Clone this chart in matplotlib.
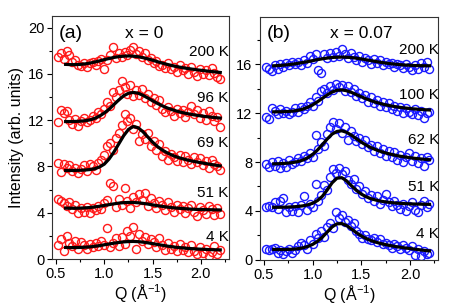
import numpy as np
from matplotlib import pyplot as plt
from matplotlib.ticker import MultipleLocator

plt.rcParams['font.family'] = ['Liberation Sans', 'DejaVu Sans']

# measured Q grid (1/A)
q = [0.52, 0.55, 0.58, 0.61, 0.64, 0.67, 0.70, 0.73, 0.76, 0.79, 0.82, 0.85, 0.88, 0.91,
     0.94, 0.97, 1.00, 1.03, 1.06, 1.09, 1.12, 1.15, 1.18, 1.21, 1.24, 1.27, 1.30, 1.33,
     1.36, 1.39, 1.42, 1.45, 1.48, 1.51, 1.54, 1.57, 1.60, 1.63, 1.66, 1.69, 1.72, 1.75,
     1.78, 1.81, 1.84, 1.87, 1.90, 1.93, 1.96, 1.99, 2.02, 2.05, 2.08, 2.11, 2.14, 2.17, 2.20]

# panel (a), x = 0
a_200k = [17.5, 17.8, 17.3, 18.0, 17.6, 17.0, 17.2, 16.8, 16.7, 16.9, 16.6, 16.9, 17.0, 16.8,
          17.1, 17.3, 16.4, 17.2, 17.6, 18.3, 17.4, 17.8, 17.5, 17.9, 17.6, 18.1, 18.3, 17.7,
          18.0, 17.5, 17.8, 17.2, 17.4, 16.9, 17.1, 16.7, 16.8, 16.5, 16.9, 16.4, 16.6, 16.2,
          16.8, 16.3, 16.5, 16.0, 16.6, 16.2, 15.8, 16.4, 16.0, 16.3, 15.9, 16.5, 16.1, 15.7, 15.6]
a_96k = [11.8, 12.9, 12.6, 12.8, 12.0, 11.7, 12.1, 11.5, 11.9, 12.2, 11.8, 12.0, 12.4, 12.2,
         12.7, 12.5, 13.0, 13.6, 13.2, 14.4, 14.0, 14.6, 15.4, 14.9, 14.3, 15.0, 14.1, 14.6,
         14.2, 14.7, 13.9, 14.3, 13.6, 13.9, 13.3, 13.7, 13.0, 12.7, 13.1, 12.8, 12.4, 13.0,
         12.6, 12.9, 12.3, 12.7, 13.2, 12.5, 12.9, 12.2, 12.6, 12.0, 12.8, 12.4, 11.9, 12.3, 11.4]
a_69k = [8.3, 7.5, 8.2, 7.9, 8.1, 7.6, 7.9, 7.4, 7.8, 8.1, 7.6, 8.2, 8.0, 7.7,
         8.3, 8.6, 9.0, 9.8, 10.0, 9.4, 10.5, 10.9, 11.6, 12.5, 11.9, 12.2, 11.2, 11.7,
         10.2, 10.8, 10.4, 10.9, 9.8, 10.2, 9.4, 9.9, 8.9, 9.3, 8.6, 9.1, 8.8, 8.5,
         9.0, 8.4, 8.9, 8.6, 8.2, 8.8, 8.4, 8.7, 8.1, 8.5, 7.9, 8.6, 8.2, 8.0, 7.7]
a_51k = [5.2, 5.0, 4.8, 4.6, 4.9, 4.3, 4.7, 4.0, 4.4, 4.1, 4.5, 4.0, 4.4, 4.2,
         4.6, 4.3, 4.8, 5.1, 6.6, 6.3, 4.5, 5.2, 4.7, 6.1, 5.0, 4.4, 5.4, 4.9,
         5.6, 5.1, 5.7, 4.6, 5.3, 4.8, 4.4, 5.0, 4.7, 4.2, 4.9, 4.5, 4.1, 4.7,
         4.3, 4.6, 4.0, 4.4, 4.7, 4.1, 3.7, 4.5, 4.2, 3.9, 4.6, 4.3, 3.8, 4.4, 3.9]
a_4k = [1.2, 1.7, 0.7, 2.0, 1.4, 1.1, 1.6, 0.9, 1.5, 1.2, 0.9, 1.3, 1.0, 1.4,
        1.1, 1.6, 1.2, 2.7, 1.0, 1.4, 1.8, 1.1, 1.9, 1.3, 2.4, 2.0, 2.8, 0.9,
        2.2, 1.6, 1.9, 1.3, 1.7, 1.5, 1.0, 1.8, 1.2, 0.8, 1.4, 0.9, 1.1, 0.7,
        1.3, 0.8, 1.0, 0.6, 1.2, 0.7, 0.4, 1.0, 0.5, 0.9, 0.3, 0.6, 1.1, 0.4, 0.8]

# panel (b), x = 0.07
b_200k = [15.8, 15.6, 15.4, 15.9, 15.6, 16.0, 15.8, 16.1, 15.9, 16.2, 16.0, 16.2, 15.9, 16.3,
          16.1, 16.7, 16.4, 16.8, 15.5, 15.3, 16.8, 16.5, 16.9, 16.6, 17.0, 16.7, 17.2, 16.8,
          16.5, 16.9, 16.6, 16.3, 16.7, 16.2, 16.5, 16.3, 16.0, 16.4, 16.1, 16.3, 15.9, 16.2,
          16.0, 16.1, 15.8, 16.0, 15.9, 15.7, 16.0, 15.8, 15.5, 15.9, 15.6, 16.1, 15.8, 16.2, 15.6]
b_100k = [11.7, 11.5, 12.4, 12.2, 11.9, 12.3, 12.0, 12.2, 11.9, 12.1, 12.4, 12.1, 12.5, 12.3,
          12.6, 12.9, 12.6, 13.3, 13.0, 13.8, 14.0, 13.6, 14.2, 13.9, 14.4, 14.1, 14.3, 13.8,
          14.2, 13.7, 14.0, 13.4, 13.6, 13.2, 13.5, 12.9, 13.3, 12.8, 13.1, 12.6, 12.9, 12.5,
          12.8, 12.3, 12.6, 12.2, 12.5, 12.0, 12.4, 12.1, 11.9, 12.3, 11.8, 12.2, 11.6, 12.0, 12.1]
b_62k = [7.8, 7.6, 8.0, 7.7, 8.1, 7.5, 7.9, 7.6, 8.2, 7.8, 8.0, 8.3, 8.1, 8.5,
         8.3, 8.7, 8.4, 10.2, 9.1, 9.6, 9.3, 10.3, 10.9, 11.3, 10.7, 11.2, 10.4, 10.9,
         9.8, 10.5, 10.1, 9.7, 10.0, 9.5, 9.8, 9.2, 9.4, 8.9, 9.3, 8.7, 9.1, 8.5,
         8.9, 8.4, 8.8, 8.2, 8.6, 8.0, 8.4, 8.7, 8.1, 8.5, 7.9, 8.3, 7.7, 8.4, 8.2]
b_51k = [4.3, 4.4, 4.3, 4.7, 4.2, 4.8, 5.1, 3.9, 4.3, 4.0, 4.4, 3.9, 4.5, 5.2,
         4.1, 4.6, 4.3, 6.2, 4.8, 5.3, 6.1, 5.7, 6.8, 7.4, 7.1, 7.5, 7.0, 7.3,
         6.5, 6.2, 6.6, 5.8, 6.0, 5.4, 5.6, 5.1, 5.3, 4.8, 5.2, 4.6, 4.9, 5.4,
         4.7, 4.4, 4.8, 4.5, 4.2, 4.6, 4.0, 4.4, 4.7, 4.1, 3.9, 4.5, 4.8, 4.3, 4.6]
b_4k = [0.9, 0.8, 0.9, 1.0, 0.6, 0.8, 0.5, 0.7, 0.9, 0.6, 0.8, 1.1, 1.4, 1.2,
        0.9, 1.6, 1.3, 2.1, 1.8, 2.4, 1.9, 2.7, 3.0, 2.6, 3.9, 3.4, 3.7, 3.1,
        3.3, 2.8, 3.0, 2.4, 2.1, 1.8, 2.0, 1.7, 1.6, 1.8, 1.5, 1.7, 1.3, 1.4,
        1.2, 1.0, 1.3, 1.1, 0.9, 1.2, 1.0, 0.8, 1.1, 0.4, 0.9, 0.3, 0.7, 0.5, 0.6]

# fitted curves
fit_q = [0.60, 0.65, 0.70, 0.75, 0.80, 0.85, 0.90, 0.95, 1.00, 1.05, 1.10, 1.15, 1.20, 1.25,
         1.30, 1.35, 1.40, 1.45, 1.50, 1.55, 1.60, 1.65, 1.70, 1.75, 1.80, 1.85, 1.90, 1.95,
         2.00, 2.05, 2.10, 2.15, 2.20]
fit_a_200k = [16.82, 16.80, 16.80, 16.82, 16.86, 16.93, 17.02, 17.12, 17.23, 17.33, 17.42,
              17.49, 17.53, 17.55, 17.53, 17.48, 17.40, 17.30, 17.18, 17.05, 16.93, 16.82,
              16.72, 16.63, 16.55, 16.48, 16.42, 16.36, 16.31, 16.26, 16.21, 16.17, 16.12]
fit_a_96k = [11.88, 11.88, 11.89, 11.91, 11.95, 12.02, 12.15, 12.35, 12.62, 12.95, 13.35,
             13.75, 14.10, 14.32, 14.40, 14.33, 14.15, 13.92, 13.68, 13.45, 13.24, 13.06,
             12.91, 12.78, 12.67, 12.58, 12.50, 12.43, 12.37, 12.31, 12.26, 12.22, 12.18]
fit_a_69k = [7.65, 7.65, 7.66, 7.67, 7.69, 7.73, 7.80, 7.95, 8.20, 8.65, 9.25, 9.95, 10.65,
             11.20, 11.45, 11.35, 11.00, 10.55, 10.10, 9.72, 9.42, 9.18, 8.98, 8.82, 8.69,
             8.58, 8.48, 8.40, 8.32, 8.25, 8.18, 8.11, 8.05]
fit_a_51k = [4.40, 4.39, 4.39, 4.40, 4.42, 4.45, 4.50, 4.56, 4.63, 4.70, 4.77, 4.83, 4.87,
             4.89, 4.89, 4.86, 4.81, 4.75, 4.68, 4.61, 4.55, 4.49, 4.44, 4.40, 4.37, 4.34,
             4.31, 4.29, 4.28, 4.27, 4.26, 4.25, 4.24]
fit_a_4k = [1.00, 0.99, 0.99, 1.00, 1.02, 1.05, 1.10, 1.16, 1.23, 1.30, 1.37, 1.43, 1.48,
            1.51, 1.52, 1.50, 1.46, 1.40, 1.33, 1.26, 1.19, 1.12, 1.06, 1.01, 0.97, 0.93,
            0.90, 0.87, 0.85, 0.83, 0.81, 0.80, 0.79]
fit_b_200k = [15.86, 15.88, 15.91, 15.95, 16.00, 16.06, 16.13, 16.20, 16.28, 16.36, 16.43,
              16.49, 16.54, 16.56, 16.57, 16.56, 16.53, 16.48, 16.42, 16.35, 16.28, 16.21,
              16.14, 16.08, 16.03, 15.99, 15.95, 15.92, 15.90, 15.88, 15.87, 15.86, 15.86]
fit_b_100k = [12.10, 12.10, 12.11, 12.13, 12.16, 12.22, 12.32, 12.47, 12.67, 12.92, 13.20,
              13.48, 13.72, 13.86, 13.89, 13.82, 13.68, 13.51, 13.33, 13.16, 13.01, 12.88,
              12.77, 12.67, 12.59, 12.52, 12.46, 12.41, 12.37, 12.33, 12.30, 12.27, 12.25]
fit_b_62k = [7.85, 7.86, 7.88, 7.91, 7.96, 8.04, 8.16, 8.35, 8.62, 8.98, 9.42, 9.88, 10.28,
             10.50, 10.55, 10.42, 10.18, 9.90, 9.62, 9.38, 9.17, 9.00, 8.86, 8.74, 8.64,
             8.55, 8.47, 8.41, 8.35, 8.30, 8.26, 8.22, 8.19]
fit_b_51k = [4.30, 4.30, 4.31, 4.32, 4.34, 4.37, 4.42, 4.50, 4.63, 4.85, 5.20, 5.72, 6.30,
             6.68, 6.72, 6.45, 6.05, 5.68, 5.38, 5.16, 5.00, 4.89, 4.80, 4.74, 4.69, 4.65,
             4.62, 4.60, 4.58, 4.57, 4.56, 4.55, 4.54]
fit_b_4k = [0.86, 0.85, 0.85, 0.86, 0.88, 0.92, 0.99, 1.10, 1.27, 1.52, 1.86, 2.28, 2.70,
            2.95, 2.97, 2.80, 2.52, 2.22, 1.96, 1.75, 1.58, 1.45, 1.34, 1.25, 1.17, 1.10,
            1.04, 0.98, 0.93, 0.88, 0.83, 0.78, 0.74]

labels_a = ['200 K', '96 K', '69 K', '51 K', '4 K']
label_y_a = [17.9, 13.95, 10.0, 5.7, 1.9]
labels_b = ['200 K', '100 K', '62 K', '51 K', '4 K']
label_y_b = [17.15, 13.5, 9.8, 5.95, 2.15]


def draw_panel(ax, data, fits, color, labels, label_y, tag, comp, label_x, comp_x):
    for y in data:
        ax.plot(q, y, 'o', mfc='none', mec=color, ms=5.8, mew=1.0, zorder=2)
    for f in fits:
        ax.plot(fit_q, f, '-', color='black', lw=2.3, zorder=3)
    for lab, ly in zip(labels, label_y):
        ax.text(label_x, ly, lab, ha='right', va='center', fontsize=11, zorder=4)
    ax.text(0.035, 0.93, tag, transform=ax.transAxes, ha='left', va='center', fontsize=14)
    ax.text(comp_x, 0.93, comp, transform=ax.transAxes, ha='center', va='center', fontsize=12.5)
    ax.set_xlim(0.46, 2.29)
    ax.xaxis.set_major_locator(MultipleLocator(0.5))
    ax.xaxis.set_minor_locator(MultipleLocator(0.25))
    ax.yaxis.set_major_locator(MultipleLocator(4))
    ax.yaxis.set_minor_locator(MultipleLocator(2))
    ax.tick_params(which='both', direction='out', labelsize=10.5, pad=2)
    ax.tick_params(which='major', length=3.5, width=0.8)
    ax.tick_params(which='minor', length=2, width=0.8)
    ax.set_xticks([0.5, 1.0, 1.5, 2.0])
    ax.set_xticklabels(['0.5', '1.0', '1.5', '2.0'])
    ax.set_xlabel('Q (Å$^{\\mathregular{-1}}$)', fontsize=11.5, labelpad=1)
    for s in ax.spines.values():
        s.set_linewidth(0.8)
        s.set_color('#333333')


fig = plt.figure(figsize=(4.57, 3.08), dpi=100)
ax_a = fig.add_axes([0.114, 0.159, 0.387, 0.789])
ax_b = fig.add_axes([0.569, 0.156, 0.390, 0.789])

draw_panel(ax_a, [a_200k, a_96k, a_69k, a_51k, a_4k],
           [fit_a_200k, fit_a_96k, fit_a_69k, fit_a_51k, fit_a_4k],
           '#ff1a1a', labels_a, label_y_a, '(a)', 'x = 0', 2.285, 0.52)
draw_panel(ax_b, [b_200k, b_100k, b_62k, b_51k, b_4k],
           [fit_b_200k, fit_b_100k, fit_b_62k, fit_b_51k, fit_b_4k],
           '#1a1aff', labels_b, label_y_b, '(b)', 'x = 0.07', 2.30, 0.57)

ax_a.set_ylim(0, 21)
ax_b.set_ylim(0, 19.85)
ax_a.set_ylabel('Intensity (arb. units)', fontsize=11.5, labelpad=3)

fig.savefig('out.png', dpi=100)
